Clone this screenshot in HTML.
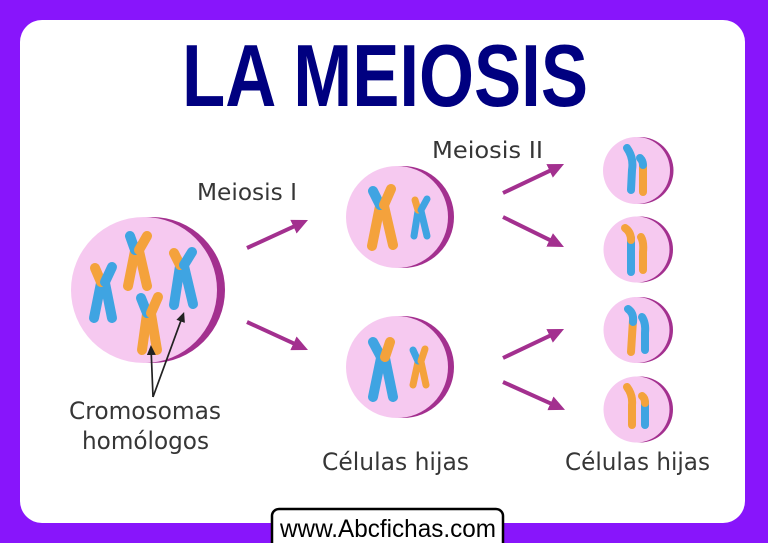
<!DOCTYPE html>
<html><head><meta charset="utf-8"><style>
html,body{margin:0;padding:0;background:#8815fb;}
svg{display:block;}
</style></head><body>
<svg width="768" height="543" viewBox="0 0 768 543" xmlns="http://www.w3.org/2000/svg">
<defs>
<marker id="pa" markerUnits="userSpaceOnUse" markerWidth="17" markerHeight="15" refX="6" refY="7.5" orient="auto"><path d="M0,0 L16,7.5 L0,15 z" fill="#a3308f"/></marker>
<marker id="ba" markerUnits="userSpaceOnUse" markerWidth="10" markerHeight="9" refX="3" refY="4.5" orient="auto"><path d="M0,0 L10,4.5 L0,9 z" fill="#222"/></marker>
</defs>
<rect x="0" y="0" width="768" height="543" fill="#8815fb"/>
<rect x="20" y="20" width="725" height="503" rx="22" fill="#ffffff"/>
<text x="182" y="106" font-family="Liberation Sans, sans-serif" font-weight="bold" font-size="88" fill="#000080" textLength="406" lengthAdjust="spacingAndGlyphs">LA MEIOSIS</text>

<g font-family="DejaVu Sans, Liberation Sans, sans-serif" fill="#363636">
<text x="197" y="200" font-size="23" textLength="100" lengthAdjust="spacingAndGlyphs">Meiosis I</text>
<text x="432" y="158" font-size="23" textLength="111" lengthAdjust="spacingAndGlyphs">Meiosis II</text>
<text x="69" y="419" font-size="24" textLength="152" lengthAdjust="spacingAndGlyphs">Cromosomas</text>
<text x="82" y="449" font-size="24" textLength="127" lengthAdjust="spacingAndGlyphs">homólogos</text>
<text x="322" y="470" font-size="24" textLength="147" lengthAdjust="spacingAndGlyphs">Células hijas</text>
<text x="565" y="470" font-size="24" textLength="145" lengthAdjust="spacingAndGlyphs">Células hijas</text>
</g>

<!-- cells -->
<circle cx="152" cy="290" r="73" fill="#a3308f"/>
<circle cx="144" cy="290" r="73" fill="#f6c9f0"/>
<circle cx="403" cy="217" r="51" fill="#a3308f"/>
<circle cx="397" cy="217" r="51" fill="#f6c9f0"/>
<circle cx="403" cy="367" r="51" fill="#a3308f"/>
<circle cx="397" cy="367" r="51" fill="#f6c9f0"/>
<circle cx="640" cy="170.5" r="33.5" fill="#a3308f"/>
<circle cx="636.5" cy="170.5" r="33.5" fill="#f6c9f0"/>
<circle cx="640" cy="249.5" r="33" fill="#a3308f"/>
<circle cx="636.5" cy="249.5" r="33" fill="#f6c9f0"/>
<circle cx="640" cy="330" r="33" fill="#a3308f"/>
<circle cx="636.5" cy="330" r="33" fill="#f6c9f0"/>
<circle cx="640" cy="409.5" r="33" fill="#a3308f"/>
<circle cx="636.5" cy="409.5" r="33" fill="#f6c9f0"/>

<!-- chromosomes big cell -->
<g stroke-linecap="round" fill="none" stroke-width="10">
<!-- 1 -->
<line x1="101" y1="283" x2="94" y2="318" stroke="#3fa4e2"/>
<line x1="105" y1="283" x2="112" y2="318" stroke="#3fa4e2"/>
<line x1="101" y1="282" x2="95" y2="268" stroke="#f4a23c"/>
<line x1="105" y1="282" x2="112" y2="267" stroke="#3fa4e2"/>
<!-- 2 -->
<line x1="135" y1="251" x2="128" y2="286" stroke="#f4a23c"/>
<line x1="139" y1="251" x2="147" y2="286" stroke="#f4a23c"/>
<line x1="135" y1="250" x2="130" y2="236" stroke="#3fa4e2"/>
<line x1="139" y1="250" x2="147" y2="236" stroke="#f4a23c"/>
<!-- 3 -->
<line x1="180" y1="266" x2="174" y2="305" stroke="#3fa4e2"/>
<line x1="184" y1="266" x2="193" y2="304" stroke="#3fa4e2"/>
<line x1="180" y1="265" x2="174" y2="253" stroke="#f4a23c"/>
<line x1="184" y1="265" x2="192" y2="252" stroke="#3fa4e2"/>
<!-- 4 -->
<line x1="147" y1="314" x2="142" y2="350" stroke="#f4a23c"/>
<line x1="151" y1="314" x2="157" y2="350" stroke="#f4a23c"/>
<line x1="147" y1="313" x2="141" y2="298" stroke="#3fa4e2"/>
<line x1="151" y1="313" x2="158" y2="297" stroke="#f4a23c"/>
</g>

<!-- middle top cell -->
<g stroke-linecap="round" fill="none">
<g stroke-width="10">
<line x1="380" y1="206" x2="372" y2="246" stroke="#f4a23c"/>
<line x1="384" y1="206" x2="393" y2="245" stroke="#f4a23c"/>
<line x1="380" y1="205" x2="373" y2="191" stroke="#3fa4e2"/>
<line x1="384" y1="205" x2="391" y2="189" stroke="#f4a23c"/>
</g>
<g stroke-width="7">
<line x1="418" y1="211" x2="414" y2="236" stroke="#3fa4e2"/>
<line x1="421" y1="211" x2="427" y2="236" stroke="#3fa4e2"/>
<line x1="418" y1="210" x2="415" y2="200" stroke="#f4a23c"/>
<line x1="421" y1="210" x2="427" y2="199" stroke="#3fa4e2"/>
</g>
</g>

<!-- middle bottom cell -->
<g stroke-linecap="round" fill="none">
<g stroke-width="10">
<line x1="381" y1="358" x2="373" y2="397" stroke="#3fa4e2"/>
<line x1="385" y1="358" x2="393" y2="397" stroke="#3fa4e2"/>
<line x1="381" y1="357" x2="373" y2="342" stroke="#3fa4e2"/>
<line x1="385" y1="357" x2="390" y2="342" stroke="#f4a23c"/>
</g>
<g stroke-width="7">
<line x1="418" y1="362" x2="413" y2="385" stroke="#f4a23c"/>
<line x1="421" y1="362" x2="426" y2="385" stroke="#f4a23c"/>
<line x1="418" y1="361" x2="413" y2="350" stroke="#3fa4e2"/>
<line x1="421" y1="361" x2="425" y2="349" stroke="#f4a23c"/>
</g>
</g>

<!-- right cells single chromatids -->
<g stroke-linecap="round" fill="none" stroke-width="8">
<!-- cell 1 -->
<path d="M627,148 Q634,158 632,170 L631,190" stroke="#3fa4e2"/>
<path d="M643,165 L643,192" stroke="#f4a23c"/>
<path d="M640,158 Q643,161 643,165" stroke="#3fa4e2"/>
<!-- cell 2 -->
<path d="M631,238 L631,272" stroke="#3fa4e2"/>
<path d="M625,228 Q631,232 631,240" stroke="#f4a23c"/>
<path d="M641,237 Q644,242 643,252 L643,270" stroke="#f4a23c"/>
<!-- cell 3 -->
<path d="M633,320 Q632,335 631,352" stroke="#f4a23c"/>
<path d="M628,309 Q634,313 633,322" stroke="#3fa4e2"/>
<path d="M642,317 Q646,323 645,333 L645,350" stroke="#3fa4e2"/>
<!-- cell 4 -->
<path d="M627,387 Q633,395 632,405 L632,425" stroke="#f4a23c"/>
<path d="M645,402 L645,425" stroke="#3fa4e2"/>
<path d="M642,396 Q645,398 645,403" stroke="#f4a23c"/>
</g>

<!-- purple arrows -->
<g stroke="#a3308f" stroke-width="4" fill="none">
<line x1="247" y1="248" x2="298.9" y2="224.2" marker-end="url(#pa)"/>
<line x1="247" y1="322" x2="298.9" y2="345.8" marker-end="url(#pa)"/>
<line x1="503" y1="193" x2="555" y2="168.3" marker-end="url(#pa)"/>
<line x1="503" y1="217" x2="555" y2="242.6" marker-end="url(#pa)"/>
<line x1="503" y1="358" x2="555" y2="333.3" marker-end="url(#pa)"/>
<line x1="503" y1="382" x2="555.9" y2="405.8" marker-end="url(#pa)"/>
</g>

<!-- black arrows -->
<g stroke="#222" stroke-width="1.7" fill="none">
<line x1="153" y1="397" x2="151.2" y2="352" marker-end="url(#ba)"/>
<line x1="153" y1="397" x2="181.7" y2="318.6" marker-end="url(#ba)"/>
</g>

<!-- website box -->
<rect x="272" y="509" width="231" height="50" rx="7" fill="#ffffff" stroke="#000" stroke-width="2.5"/>
<text x="280" y="537" font-family="Liberation Sans, sans-serif" font-size="25" fill="#000" textLength="216" lengthAdjust="spacingAndGlyphs">www.Abcfichas.com</text>
</svg>
</body></html>
